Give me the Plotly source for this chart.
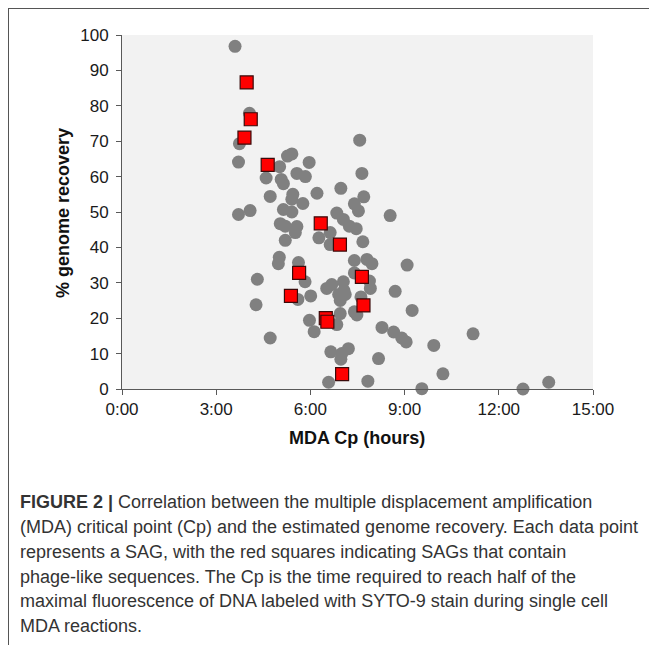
import plotly.graph_objects as go

# SAG data: MDA Cp (hours) and % genome recovery
gray_cp = [3.60, 4.06, 3.74, 3.71, 5.02, 4.59, 5.07, 5.14, 5.27, 5.41, 5.96, 5.57, 5.84,
           4.72, 5.44, 5.41, 5.76, 6.21, 6.97, 3.71, 4.08, 5.14, 5.41, 5.04, 5.20, 5.57,
           5.52, 6.84, 6.63, 6.27, 5.20, 6.63, 5.01, 4.98, 5.62, 5.83, 4.31, 6.68, 6.52,
           6.01, 5.60, 4.27, 6.95, 5.97, 6.12, 6.84, 4.72, 7.67, 7.40, 7.80, 7.96, 9.08,
           7.40, 7.88, 7.91, 7.05, 7.07, 7.11, 6.90, 8.70, 7.61, 6.95, 7.40, 7.48, 9.24,
           8.28, 8.65, 8.91, 9.05, 9.93, 6.65, 7.00, 7.21, 6.97, 8.17, 6.58, 7.83, 9.55,
           10.22, 11.18, 12.77, 13.59, 7.57, 7.64, 7.70, 7.40, 7.53, 8.54, 7.05, 7.24, 7.46]
gray_rec = [96.8, 77.9, 69.3, 64.1, 62.8, 59.6, 59.2, 58.0, 65.8, 66.4, 64.0, 60.9, 60.0,
            54.4, 55.0, 53.6, 52.4, 55.3, 56.7, 49.3, 50.4, 50.7, 50.0, 46.7, 46.0, 45.9,
            44.2, 49.7, 44.2, 42.7, 42.0, 40.8, 37.2, 35.4, 35.7, 30.3, 31.0, 29.5, 28.4,
            26.3, 25.3, 23.8, 25.0, 19.4, 16.2, 18.2, 14.4, 41.6, 36.3, 36.6, 35.4, 35.0,
            32.8, 30.5, 28.4, 30.3, 27.8, 26.7, 26.7, 27.6, 26.0, 21.3, 21.8, 20.9, 22.2,
            17.4, 16.1, 14.4, 13.3, 12.3, 10.5, 10.0, 11.4, 8.4, 8.6, 1.9, 2.2, 0.1,
            4.3, 15.6, 0.0, 1.9, 70.3, 60.9, 54.3, 52.3, 50.3, 49.0, 47.9, 46.0, 45.3]

phage_cp = [3.97, 4.10, 3.90, 4.64, 6.33, 6.94, 5.64, 7.64, 5.38, 7.69, 6.49, 6.54, 7.01]
phage_rec = [86.6, 76.2, 71.0, 63.3, 46.8, 40.8, 32.8, 31.7, 26.3, 23.6, 20.0, 19.0, 4.2]

x_tickvals = [0, 3, 6, 9, 12, 15]
x_ticktext = ["0:00", "3:00", "6:00", "9:00", "12:00", "15:00"]
y_tickvals = [0, 10, 20, 30, 40, 50, 60, 70, 80, 90, 100]

x_title = "<b>MDA Cp (hours)</b>"
y_title = "<b>% genome recovery</b>"
caption_lines = [
    "<b>FIGURE 2 |</b> Correlation between the multiple displacement amplification",
    "(MDA) critical point (Cp) and the estimated genome recovery. Each data point",
    "represents a SAG, with the red squares indicating SAGs that contain",
    "phage-like sequences. The Cp is the time required to reach half of the",
    "maximal fluorescence of DNA labeled with SYTO-9 stain during single cell",
    "MDA reactions.",
]

# page has an 8px body margin; work in page pixels and shift
OFF = 8
W, H = 657 - OFF, 645 - OFF
L, R, T, B = 122 - OFF, 593 - OFF, 35 - OFF, 389 - OFF


def px(x):
    return (x - OFF - L) / (R - L)


def py(y):
    return (B - (y - OFF)) / (B - T)


fig = go.Figure()
fig.add_trace(go.Scatter(
    x=gray_cp, y=gray_rec, mode="markers",
    marker=dict(symbol="circle", size=13, color="#808080", line=dict(width=0)),
    cliponaxis=False, showlegend=False))
fig.add_trace(go.Scatter(
    x=phage_cp, y=phage_rec, mode="markers",
    marker=dict(symbol="square", size=13, color="#ff0000",
                line=dict(width=1.2, color="#3a0a0a")),
    cliponaxis=False, showlegend=False))

font_family = "Liberation Sans, Arial, sans-serif"
axis_color = "#595959"

fig.update_xaxes(range=[0, 15], tickvals=x_tickvals, ticktext=x_ticktext,
                 showgrid=False, zeroline=False, showline=True, linecolor=axis_color,
                 linewidth=1, ticks="outside", ticklen=5, tickcolor=axis_color,
                 tickfont=dict(size=17, color="#1a1a1a", family=font_family))
fig.update_yaxes(range=[0, 100], tickvals=y_tickvals,
                 showgrid=False, zeroline=False, showline=True, linecolor=axis_color,
                 linewidth=1, ticks="outside", ticklen=5, tickcolor=axis_color,
                 ticklabelstandoff=4,
                 tickfont=dict(size=17, color="#1a1a1a", family=font_family))

annotations = [
    dict(text=x_title, xref="paper", yref="paper", x=px(357), y=py(438),
         xanchor="center", yanchor="middle", showarrow=False,
         font=dict(size=18, color="#111111", family=font_family)),
    dict(text=y_title, xref="paper", yref="paper", x=px(63), y=py(213),
         xanchor="center", yanchor="middle", showarrow=False, textangle=-90,
         font=dict(size=18, color="#111111", family=font_family)),
]
line_y = [502, 527, 551.5, 576.5, 601, 625.5]
for txt, yy in zip(caption_lines, line_y):
    annotations.append(dict(
        text=txt, xref="paper", yref="paper", x=px(18), y=py(yy),
        xanchor="left", yanchor="middle", showarrow=False, align="left",
        font=dict(size=18, color="#333333", family=font_family)))

shapes = [
    dict(type="line", xref="paper", yref="paper",
         x0=px(8), x1=px(657), y0=py(8.5), y1=py(8.5),
         line=dict(color="#555555", width=1)),
    dict(type="line", xref="paper", yref="paper",
         x0=px(8.5), x1=px(8.5), y0=py(8), y1=py(645),
         line=dict(color="#555555", width=1)),
]

fig.update_layout(
    width=W, height=H,
    margin=dict(l=L, r=W - R, t=T, b=H - B),
    plot_bgcolor="#f2f2f2", paper_bgcolor="white",
    font=dict(family=font_family),
    annotations=annotations, shapes=shapes,
)

fig.write_html("out.html")
